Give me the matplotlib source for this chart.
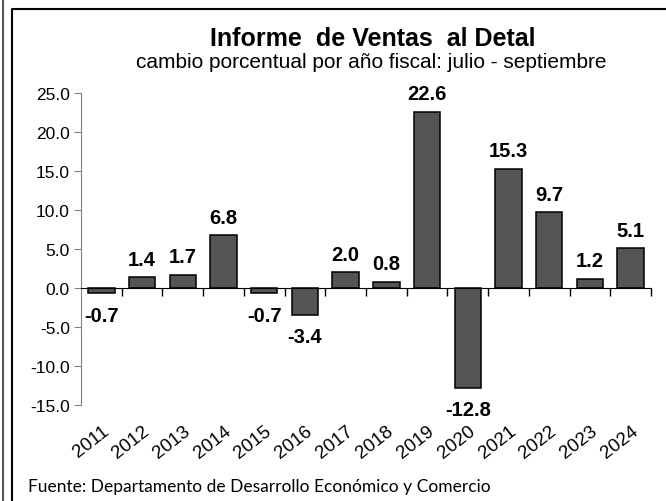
import matplotlib.pyplot as plt
from matplotlib.lines import Line2D

years = ['2011', '2012', '2013', '2014', '2015', '2016', '2017',
         '2018', '2019', '2020', '2021', '2022', '2023', '2024']
cambio = [-0.7, 1.4, 1.7, 6.8, -0.7, -3.4, 2.0, 0.8, 22.6, -12.8, 15.3, 9.7, 1.2, 5.1]
yticks = [-15, -10, -5, 0, 5, 10, 15, 20, 25]

plt.rcParams['font.family'] = ['Liberation Sans', 'DejaVu Sans']

fig = plt.figure(figsize=(6.66, 5.02), dpi=100)
ax = fig.add_axes([81 / 666, 1 - 406 / 502, 570 / 666, 312 / 502])

x = list(range(len(years)))
ax.bar(x, cambio, width=0.65, color='#555555', edgecolor='black', linewidth=1.1, zorder=2)

# etiquetas de datos
for xi, v in zip(x, cambio):
    if v >= 0:
        ax.annotate(f'{v:.1f}', (xi, v), xytext=(0, 6), textcoords='offset points',
                    ha='center', va='bottom', fontsize=14.5, fontweight='bold')
    else:
        ax.annotate(f'{v:.1f}', (xi, v), xytext=(0, -9), textcoords='offset points',
                    ha='center', va='top', fontsize=14.5, fontweight='bold')

ax.set_xlim(-0.5, len(years) - 0.5)
ax.set_ylim(-15, 25)
ax.set_yticks(yticks)
ax.set_yticklabels([f'{t:.1f}' for t in yticks], fontsize=12.5)
ax.tick_params(axis='y', length=5, color='#808080', pad=3)

for s in ['top', 'right']:
    ax.spines[s].set_visible(False)
ax.spines['left'].set_color('#808080')
ax.spines['bottom'].set_position(('data', 0))
ax.spines['bottom'].set_color('black')

# marcas entre categorias en la linea del cero
ax.set_xticks([i + 0.5 for i in x])
ax.set_xticklabels([])
ax.tick_params(axis='x', length=6, width=1, color='black')

# etiquetas de años abajo
sec = ax.secondary_xaxis(0)
sec.set_xticks(x)
sec.set_xticklabels(years, rotation=38, ha='right', rotation_mode='anchor', fontsize=13.5)
sec.tick_params(length=0, pad=12)
sec.spines['bottom'].set_visible(False)

fig.text(0.56, 1 - 38.5 / 502, 'Informe  de Ventas  al Detal', ha='center', va='center',
         fontsize=18, fontweight='bold')
fig.text(0.557, 1 - 63 / 502, 'cambio porcentual por año fiscal: julio - septiembre',
         ha='center', va='center', fontsize=15)
fig.text(28 / 666, 1 - 487 / 502, 'Fuente: Departamento de Desarrollo Económico y Comercio',
         ha='left', va='center', fontsize=12.5, family=['Lato', 'DejaVu Sans'])

# marco del grafico
fig.add_artist(Line2D([12 / 666, 12 / 666, 1.0], [0, 1 - 10 / 502, 1 - 10 / 502],
                      transform=fig.transFigure, color='black', linewidth=1.5))
fig.add_artist(Line2D([2.5 / 666, 2.5 / 666], [0, 1],
                      transform=fig.transFigure, color='#555555', linewidth=1.5))

fig.savefig('out.png', dpi=100)
